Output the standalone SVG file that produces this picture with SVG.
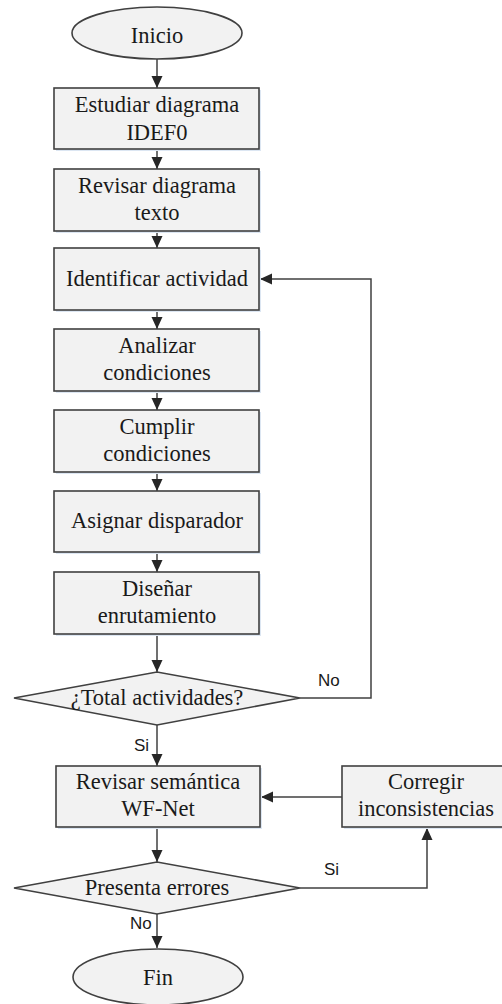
<svg xmlns="http://www.w3.org/2000/svg" width="502" height="1004" viewBox="0 0 502 1004">
  <defs>
    <marker id="arrow" markerUnits="userSpaceOnUse" markerWidth="12" markerHeight="12" refX="12" refY="6" orient="auto">
      <path d="M0,0.5 L12,6 L0,11.5 z" fill="#262626"/>
    </marker>
  </defs>
  <style>
    .shape { fill: #f2f2f2; stroke: #404040; stroke-width: 1.6; }
    .shadow { fill: #dce6f2; stroke: none; }
    .label { font-family: "Liberation Serif", "Times New Roman", serif; font-size: 22.5px; fill: #1a1a1a; text-anchor: middle; }
    .tag { font-family: "Liberation Sans", Arial, sans-serif; font-size: 17px; fill: #1a1a1a; }
    .conn { fill: none; stroke: #404040; stroke-width: 1.5; marker-end: url(#arrow); }
  </style>
  <rect width="502" height="1004" fill="#ffffff"/>

  <!-- connectors -->
  <g id="connectors">
    <path class="conn" d="M157,59 L157,88"/>
    <path class="conn" d="M157,149 L157,169"/>
    <path class="conn" d="M157,231 L157,248"/>
    <path class="conn" d="M157,310 L157,329"/>
    <path class="conn" d="M157,391 L157,410"/>
    <path class="conn" d="M157,472 L157,491"/>
    <path class="conn" d="M157,552 L157,572"/>
    <path class="conn" d="M157,634 L157,672"/>
    <path class="conn" d="M157,725 L157,766"/>
    <path class="conn" d="M300,698 L371,698 L371,279 L260,279"/>
    <path class="conn" d="M157,827 L157,862"/>
    <path class="conn" d="M342,797 L261,797"/>
    <path class="conn" d="M300,888 L427,888 L427,828"/>
    <path class="conn" d="M157,914 L157,948"/>
    <text class="tag" x="318" y="686">No</text>
    <text class="tag" x="134" y="751">Si</text>
    <text class="tag" x="324" y="875">Si</text>
    <text class="tag" x="130" y="929">No</text>
  </g>

  <g id="inicio">
    <ellipse class="shape" cx="157" cy="33" rx="85" ry="26"/>
    <text class="label" x="157" y="43">Inicio</text>
  </g>

  <g id="estudiar">
    <rect class="shadow" x="56" y="90" width="205" height="61"/>
    <rect class="shape" x="54" y="88" width="205" height="61"/>
    <text class="label" x="157" y="112">Estudiar diagrama</text>
    <text class="label" x="157" y="140">IDEF0</text>
  </g>

  <g id="revisar-texto">
    <rect class="shadow" x="56" y="171" width="205" height="62"/>
    <rect class="shape" x="54" y="169" width="205" height="62"/>
    <text class="label" x="157" y="193">Revisar diagrama</text>
    <text class="label" x="157" y="220">texto</text>
  </g>

  <g id="identificar">
    <rect class="shadow" x="56" y="250" width="205" height="62"/>
    <rect class="shape" x="54" y="248" width="205" height="62"/>
    <text class="label" x="157" y="286">Identificar actividad</text>
  </g>

  <g id="analizar">
    <rect class="shadow" x="56" y="331" width="205" height="62"/>
    <rect class="shape" x="54" y="329" width="205" height="62"/>
    <text class="label" x="157" y="353">Analizar</text>
    <text class="label" x="157" y="380">condiciones</text>
  </g>

  <g id="cumplir">
    <rect class="shadow" x="56" y="412" width="205" height="62"/>
    <rect class="shape" x="54" y="410" width="205" height="62"/>
    <text class="label" x="157" y="434">Cumplir</text>
    <text class="label" x="157" y="461">condiciones</text>
  </g>

  <g id="asignar">
    <rect class="shadow" x="56" y="493" width="205" height="61"/>
    <rect class="shape" x="54" y="491" width="205" height="61"/>
    <text class="label" x="157" y="528">Asignar disparador</text>
  </g>

  <g id="disenar">
    <rect class="shadow" x="56" y="574" width="205" height="62"/>
    <rect class="shape" x="54" y="572" width="205" height="62"/>
    <text class="label" x="157" y="596">Diseñar</text>
    <text class="label" x="157" y="623">enrutamiento</text>
  </g>

  <g id="total">
    <polygon class="shape" points="14,698 157,672 300,698 157,725"/>
    <text class="label" x="157" y="705">¿Total actividades?</text>
  </g>

  <g id="semantica">
    <rect class="shadow" x="58" y="768" width="204" height="61"/>
    <rect class="shape" x="56" y="766" width="204" height="61"/>
    <text class="label" x="158" y="789">Revisar semántica</text>
    <text class="label" x="158" y="816">WF-Net</text>
  </g>

  <g id="corregir">
    <rect class="shadow" x="344" y="768" width="170" height="61"/>
    <rect class="shape" x="342" y="766" width="170" height="61"/>
    <text class="label" x="426" y="789">Corregir</text>
    <text class="label" x="426" y="816">inconsistencias</text>
  </g>

  <g id="errores">
    <polygon class="shape" points="14,888 157,862 300,888 157,914"/>
    <text class="label" x="157" y="895">Presenta errores</text>
  </g>

  <g id="fin">
    <ellipse class="shape" cx="158" cy="977" rx="85" ry="28"/>
    <text class="label" x="158" y="985">Fin</text>
  </g>
</svg>
